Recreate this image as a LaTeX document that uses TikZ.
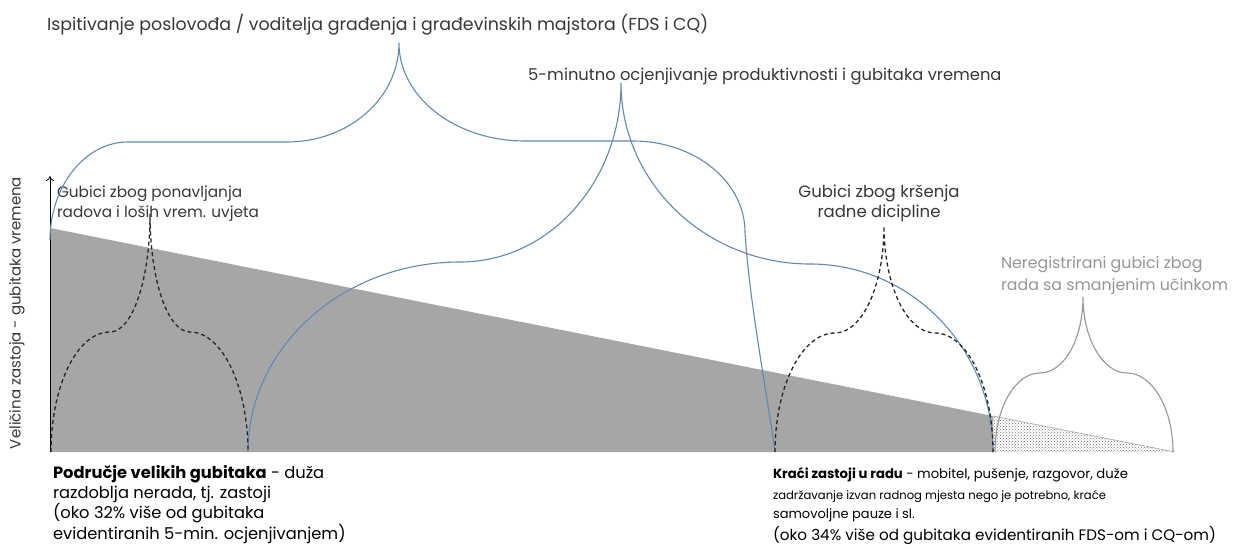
\documentclass[tikz,border=0pt]{standalone}
\usepackage{fontspec}
\setmainfont{Poppins}
\usetikzlibrary{patterns,arrows.meta}
\definecolor{braceblue}{RGB}{98,136,182}
\definecolor{areagray}{RGB}{166,166,166}
\definecolor{txtdark}{RGB}{55,55,55}
\definecolor{txtgray}{RGB}{150,150,150}
\definecolor{bracegray}{RGB}{150,150,150}
\begin{document}
\begin{tikzpicture}[x=1pt,y=-1pt,
  bluebrace/.style={draw=braceblue,line width=1.1pt},
  dashbrace/.style={draw=black!85,line width=1.3pt,dash pattern=on 4pt off 3pt},
  graybrace/.style={draw=bracegray,line width=1.1pt},
  fsz/.style={font=\fontsize{#1}{#1}\selectfont},
  lbl/.style={inner sep=0pt,outer sep=0pt,text=txtdark,anchor=base west,fsz=16},
  lblc/.style={lbl,anchor=base},
  lblg/.style={lbl,text=txtgray},
  ylbl/.style={inner sep=0pt,text=txtdark,fsz=15,rotate=90}]
\useasboundingbox (0,0) rectangle (1234,548);
\fill[white] (0,0) rectangle (1234,548);

% areas
\fill[areagray] (50,228) -- (993,416) -- (993,452) -- (50,452) -- cycle;
\fill[pattern=crosshatch dots,pattern color=black!55] (993,416) -- (1175,452) -- (993,452) -- cycle;
\draw[gray!70,line width=0.6pt] (993,416) -- (1175,452);

% coordinates
\coordinate (b1l) at (50,240);
\coordinate (b1t) at (399,43);
\coordinate (b1r) at (775,452);
\coordinate (b2l) at (248,452);
\coordinate (b2t) at (621,83);
\coordinate (b2r) at (993,452);
\coordinate (d1l) at (51,452);
\coordinate (d1t) at (150,214);
\coordinate (d1r) at (248,452);
\coordinate (d2l) at (775,452);
\coordinate (d2t) at (884,226);
\coordinate (d2r) at (993,452);
\coordinate (g1l) at (995,452);
\coordinate (g1t) at (1083,297);
\coordinate (g1r) at (1173,452);
\coordinate (axb) at (50,452);
\coordinate (axt) at (50,176);

% axis
\draw[line width=0.8pt,-{To[length=5pt,width=8pt]}] (axb) -- (axt);

% texts
\node[lbl,fsz=17.4] (fds) at (47,31) {Ispitivanje poslovođa / voditelja građenja i građevinskih majstora (FDS i CQ)};
\node[lbl,fsz=16.3] (min5) at (528,81) {5-minutno ocjenjivanje produktivnosti i gubitaka vremena};
\node[ylbl] (yax) at (17,313) {Veličina zastoja - gubitaka vremena};
\node[lbl,fsz=15.3] (pon1) at (57,198) {Gubici zbog ponavljanja};
\node[lbl,fsz=15.3] (pon2) at (57,218) {radova i loših vrem. uvjeta};
\node[lblc,fsz=16.5] (krs1) at (879,198) {Gubici zbog kršenja};
\node[lblc,fsz=16.5] (krs2) at (879,218) {radne dicipline};
\node[lblg,fsz=15.8] (ner1) at (1001,269) {Neregistrirani gubici zbog};
\node[lblg,fsz=15.8] (ner2) at (1001,290) {rada sa smanjenim učinkom};
\node[lbl,text=black,fsz=16.3] (pv1) at (53,478) {\textbf{Područje velikih gubitaka} - duža};
\node[lbl,text=black,fsz=16.3] (pv2) at (53,498) {razdoblja nerada, tj. zastoji};
\node[lbl,text=black,fsz=16.3] (pv3) at (53,518) {(oko 32\% više od gubitaka};
\node[lbl,text=black,fsz=16.3] (pv4) at (53,539) {evidentiranih 5-min. ocjenjivanjem)};
\node[lbl,text=black,fsz=13.2] (kz1) at (773,478) {\textbf{Kraći zastoji u radu} - mobitel, pušenje, razgovor, duže};
\node[lbl,text=black,fsz=11.6] (kz2) at (773,499) {zadržavanje izvan radnog mjesta nego je potrebno, kraće};
\node[lbl,text=black,fsz=13] (kz3) at (773,518) {samovoljne pauze i sl.};
\node[lbl,text=black,fsz=15.2] (kz4) at (773,540) {(oko 34\% više od gubitaka evidentiranih FDS-om i CQ-om)};

% blue brace 1 (FDS / CQ)
\draw[bluebrace] (b1l) .. controls (50,186) and (85,142) .. (128,142)
  -- (287,142) .. controls (349,142) and (399,98) .. (b1t)
  .. controls (399,97) and (455,141) .. (525,141)
  -- (633,141) .. controls (695,141) and (745,182) .. (745,232)
  .. controls (749,300) and (768,400) .. (b1r);
% blue brace 2 (5-min)
\draw[bluebrace] (b2l) .. controls (248,347) and (343,262) .. (460,262)
  .. controls (549,262) and (621,182) .. (b2t)
  .. controls (621,183) and (706,264) .. (810,264)
  .. controls (911,264) and (993,348) .. (b2r);
% dashed brace 1
\draw[dashbrace] (d1l) .. controls (51,386) and (77,332) .. (110,332)
  .. controls (132,332) and (150,281) .. (d1t)
  .. controls (150,281) and (168,332) .. (190,332)
  .. controls (222,332) and (248,386) .. (d1r);
% dashed brace 2
\draw[dashbrace] (d2l) .. controls (775,386) and (802,333) .. (835,333)
  .. controls (862,333) and (884,286) .. (d2t)
  .. controls (884,286) and (907,333) .. (935,333)
  .. controls (967,333) and (993,386) .. (d2r);
% gray brace
\draw[graybrace] (g1l) .. controls (995,408) and (1015,373) .. (1040,373)
  .. controls (1064,373) and (1083,339) .. (g1t)
  .. controls (1083,339) and (1103,373) .. (1127,373)
  .. controls (1152,373) and (1173,408) .. (g1r);
\end{tikzpicture}
\end{document}
